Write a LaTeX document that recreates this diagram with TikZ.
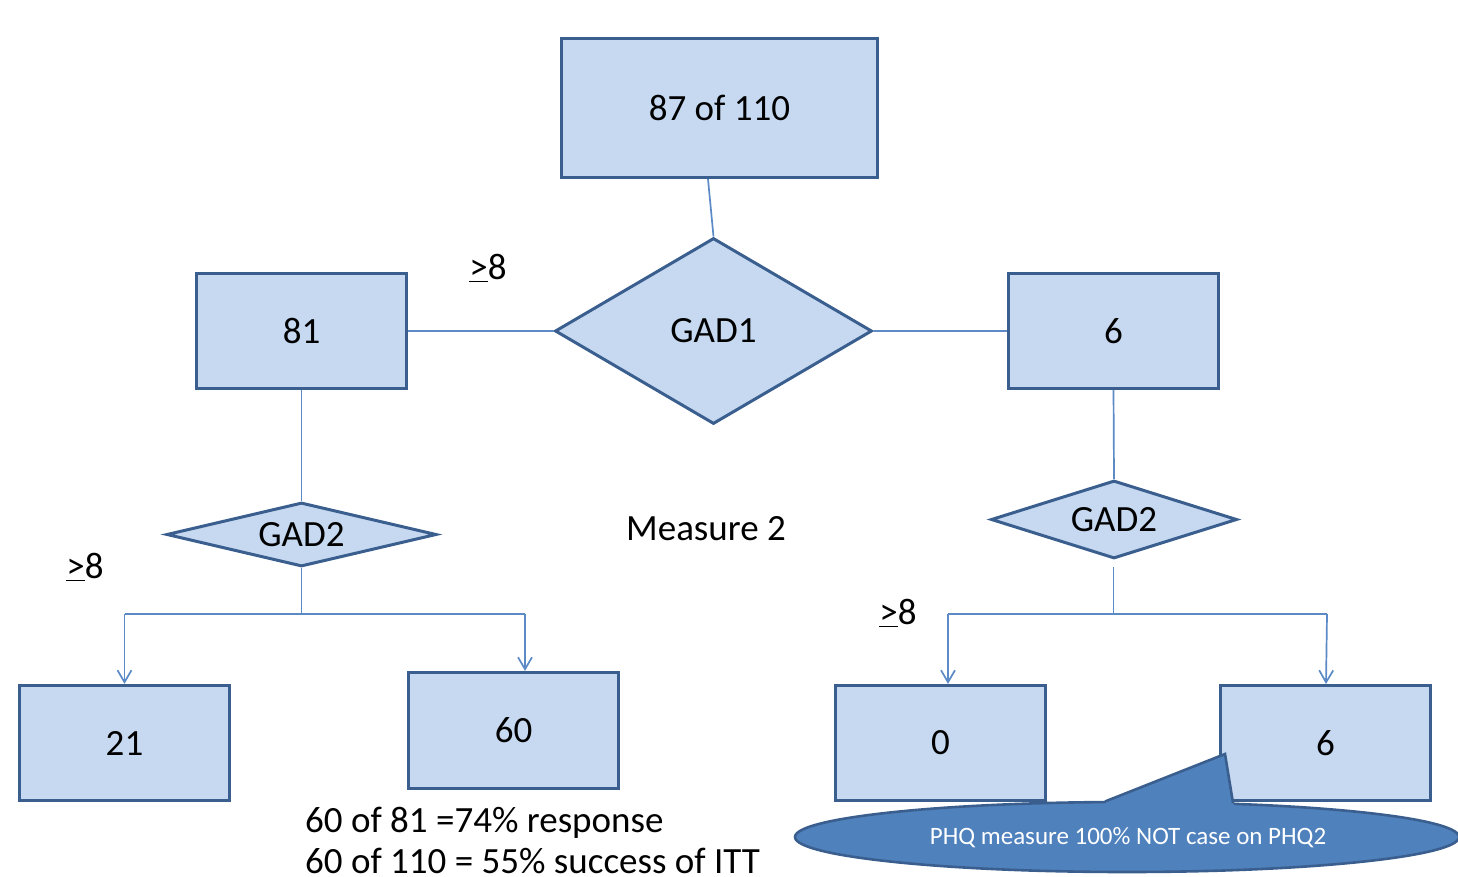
\documentclass[tikz,border=0pt]{standalone}
\usepackage{fontspec}
\setmainfont{Carlito}
\usetikzlibrary{shapes.geometric,arrows.meta}
\definecolor{boxfill}{HTML}{C6D9F1}
\definecolor{boxline}{HTML}{3A5F8F}
\definecolor{linkline}{HTML}{5B8AC6}
\definecolor{notefill}{HTML}{4F81BD}
\newcommand{\bigtext}{\fontsize{37}{44}\selectfont}
\newcommand{\notetext}{\fontsize{25}{30}\selectfont}
\newcommand{\atleasteight}{\underline{>}8}

\begin{document}
\begin{tikzpicture}[x=1pt,y=-1pt,
  box/.style={rectangle, draw=boxline, line width=3.2pt, fill=boxfill,
    inner sep=0pt, font=\bigtext},
  decision/.style={diamond, draw=boxline, line width=3pt, fill=boxfill,
    inner sep=0pt, font=\bigtext},
  link/.style={draw=linkline, line width=1.7pt},
  arr/.style={link, -{Straight Barb[length=12pt,width=14pt,line width=1.7pt]}},
  lbl/.style={inner sep=0pt, font=\bigtext},
  note/.style={ellipse, draw=boxline, line width=2.6pt, fill=notefill,
    inner sep=0pt, text=white, font=\notetext}]

\useasboundingbox (0,0) rectangle (1458,877);

% top level
\node[box, minimum width=316, minimum height=139] (top) at (719.5,108) {87 of 110};
\node[decision, aspect=1.7, minimum width=317, minimum height=186] (g1) at (713.5,331) {GAD1};
\node[box, minimum width=210, minimum height=115] (b81) at (301.5,331) {81};
\node[box, minimum width=210, minimum height=115] (b6) at (1113.5,331) {6};

\draw[link] ([xshift=-11.5pt]top.south) -- (g1.north);
\draw[link] (b81.east) -- (g1.west);
\draw[link] (g1.east) -- (b6.west);

% second level, left branch
\node[decision, aspect=4.2, minimum width=270, minimum height=64] (g2l) at (301.5,534.5) {GAD2};
\draw[link] (b81.south) -- (g2l.north);

\node[box, minimum width=210, minimum height=115] (b21) at (124.5,743) {21};
\node[box, minimum width=210, minimum height=116] (b60) at (513.5,730.5) {60};

\coordinate (lmid) at (301.5,614);
\coordinate (lleft) at (124.5,614);
\coordinate (lright) at (525,614);
\draw[link] (g2l.south) -- (lmid);
\draw[link] (lleft) -- (lright);
\draw[arr] (lleft) -- (b21.north);
\draw[arr] (lright) -- (lright |- b60.north);

% second level, right branch
\node[decision, aspect=3.15, minimum width=246, minimum height=78] (g2r) at (1114,519.5) {GAD2};
\draw[link] (b6.south) -- (g2r.north);

\node[box, minimum width=210, minimum height=115] (b0) at (940.5,743) {0};
\node[box, minimum width=210, minimum height=115] (b6b) at (1325.5,743) {6};

\coordinate (rtop) at (1113.5,567);
\coordinate (rmid) at (1113.5,614);
\coordinate (rleft) at (948,614);
\coordinate (rright) at (1327,614);
\draw[link] (rtop) -- (rmid);
\draw[link] (rleft) -- (rright);
\draw[arr] (rleft) -- (rleft |- b0.north);
\draw[arr] (rright) -- (1326,684);

% threshold and caption labels
\node[lbl] (t1) at (488,268) {\atleasteight};
\node[lbl] (t2) at (85,567) {\atleasteight};
\node[lbl] (t3) at (898,613) {\atleasteight};
\node[lbl] (m2) at (706,529) {Measure 2};
\node[lbl, anchor=base west] (r1) at (305,832) {60 of 81 =74\% response};
\node[lbl, anchor=base west] (r2) at (305,873) {60 of 110 = 55\% success of ITT};

% callout
\node[note, minimum width=664, minimum height=70] (callout) at (1127,837) {};
\fill[notefill] (1106,801) -- (1225,754) -- (1233,803) -- (1236,810) -- (1104,810) -- cycle;
\draw[boxline, line width=2.6pt, line join=miter] (1105,801.5) -- (1225,754) -- (1233,803);
\node[text=white, font=\notetext] at (1128,838) {PHQ measure 100\% NOT case on PHQ2};
\end{tikzpicture}
\end{document}
